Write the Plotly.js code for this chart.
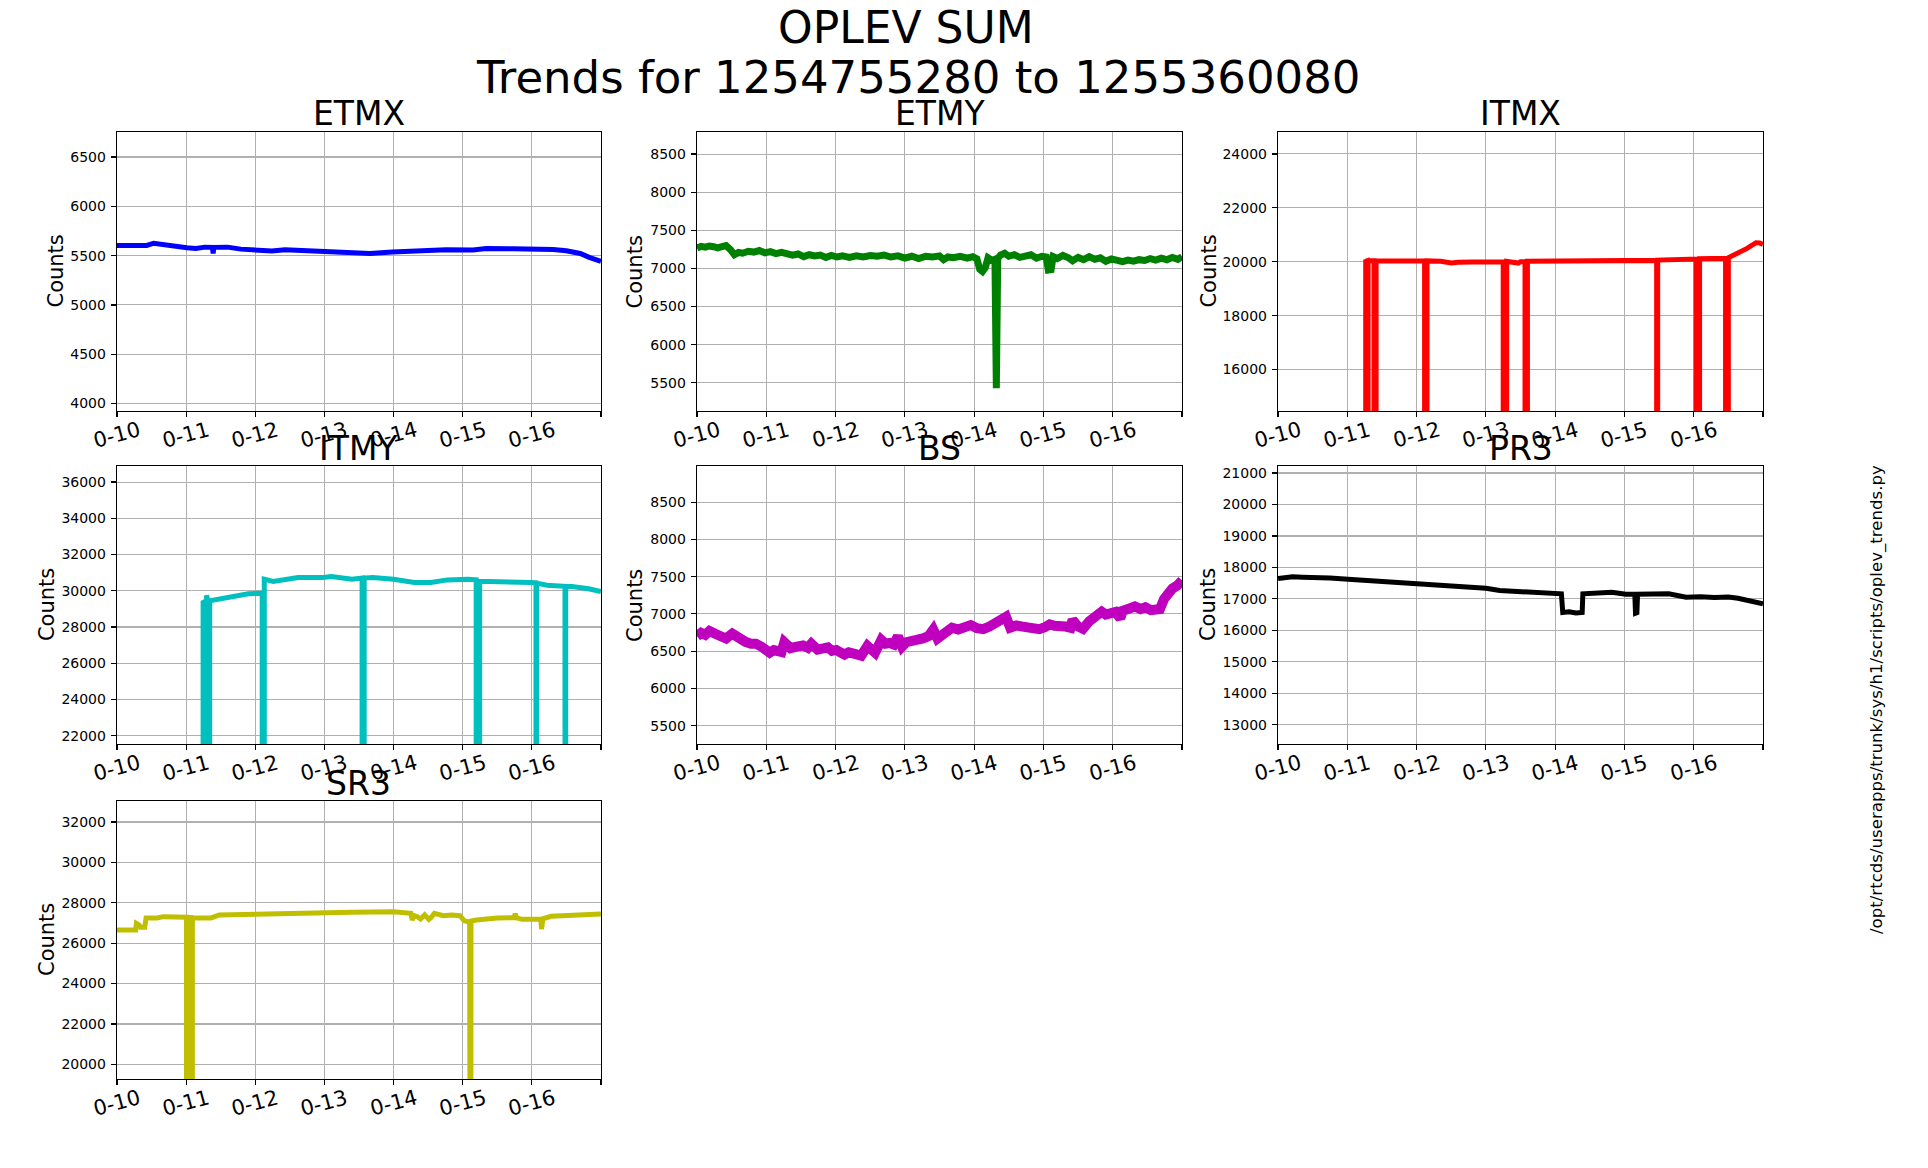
<!DOCTYPE html>
<html>
<head>
<meta charset="utf-8">
<script src="https://cdn.plot.ly/plotly-3.0.1.min.js"></script>
<style>
  html, body { margin: 0; padding: 0; background: #fff; }
  #chart { width: 1928px; height: 1168px; }
</style>
</head>
<body>
<div id="chart"></div>
<script>
// x is days since the start of the trend window (1254755280)
const dayTicks = [0, 1, 2, 3, 4, 5, 6, 7];
const dayLabels = ["0-10", "0-11", "0-12", "0-13", "0-14", "0-15", "0-16", ""];

const mainTitle = "OPLEV SUM";
const subTitle = "Trends for 1254755280 to 1255360080";
const scriptPath = "/opt/rtcds/userapps/trunk/sys/h1/scripts/oplev_trends.py";

const etmxT = [0, 0.43, 0.53, 0.66, 0.82, 1.01, 1.14, 1.27, 1.38, 1.39, 1.40, 1.47, 1.6, 1.79, 1.92, 2.05, 2.24, 2.43, 2.69, 2.95, 3.21, 3.47, 3.66, 3.98, 4.24, 4.43, 4.76, 5.15, 5.34, 5.73, 6.05, 6.31, 6.5, 6.7, 6.83, 7.0];
const etmxV = [5603, 5603, 5626, 5613, 5590, 5580, 5573, 5586, 5584, 5522, 5584, 5586, 5586, 5566, 5562, 5546, 5546, 5560, 5553, 5536, 5532, 5532, 5522, 5536, 5542, 5556, 5560, 5556, 5573, 5570, 5570, 5562, 5550, 5522, 5482, 5441];

const etmyT = [0, 0.06, 0.12, 0.18, 0.24, 0.3, 0.36, 0.42, 0.48, 0.54, 0.6, 0.66, 0.74, 0.82, 0.9, 0.98, 1.06, 1.14, 1.22, 1.3, 1.38, 1.46, 1.54, 1.62, 1.7, 1.78, 1.86, 1.94, 2.02, 2.1, 2.2, 2.3, 2.4, 2.5, 2.6, 2.7, 2.8, 2.9, 3.0, 3.1, 3.2, 3.3, 3.4, 3.5, 3.56, 3.62, 3.7, 3.8, 3.9, 3.98, 4.04, 4.08, 4.12, 4.16, 4.2, 4.26, 4.3, 4.32, 4.34, 4.38, 4.44, 4.5, 4.58, 4.66, 4.74, 4.82, 4.9, 4.98, 5.04, 5.07, 5.11, 5.14, 5.2, 5.28, 5.36, 5.42, 5.5, 5.58, 5.66, 5.74, 5.82, 5.9, 5.98, 6.06, 6.14, 6.22, 6.3, 6.38, 6.46, 6.54, 6.62, 6.7, 6.78, 6.86, 6.94, 7.0];
const etmyV = [7270, 7290, 7280, 7295, 7285, 7270, 7285, 7300, 7250, 7180, 7210, 7200, 7225, 7215, 7235, 7205, 7220, 7195, 7210, 7185, 7175, 7190, 7155, 7180, 7165, 7175, 7145, 7170, 7150, 7165, 7145, 7165, 7150, 7170, 7160, 7175, 7150, 7165, 7135, 7160, 7130, 7160, 7150, 7165, 7115, 7150, 7140, 7160, 7135, 7155, 7125, 6990, 6960, 7010, 7140, 7105, 7120, 5430, 7130, 7175, 7200, 7160, 7180, 7145, 7165, 7180, 7135, 7160, 7150, 6980, 6985, 7155, 7130, 7170, 7140, 7100, 7145, 7115, 7155, 7120, 7140, 7095, 7125, 7105, 7090, 7110, 7095, 7115, 7105, 7130, 7110, 7135, 7115, 7145, 7120, 7155];

// value 0 = channel dropped out (off the bottom of the plot)
const itmxT = [0, 1.265, 1.265, 1.285, 1.285, 1.30, 1.30, 1.385, 1.385, 1.415, 1.415, 1.6, 1.8, 2.0, 2.115, 2.115, 2.15, 2.15, 2.35, 2.5, 2.6, 2.8, 3.0, 3.25, 3.25, 3.30, 3.30, 3.47, 3.5, 3.565, 3.565, 3.60, 3.60, 4.0, 4.5, 4.9, 5.0, 5.2, 5.465, 5.465, 5.48, 5.48, 5.8, 6.0, 6.035, 6.035, 6.085, 6.085, 6.3, 6.46, 6.46, 6.50, 6.50, 6.58, 6.77, 6.9, 6.95, 7.0];
const itmxV = [0, 0, 20010, 20030, 0, 0, 20040, 20040, 0, 0, 20030, 20030, 20020, 20030, 20025, 0, 0, 20030, 20020, 19950, 19980, 19990, 19990, 20000, 0, 0, 20010, 19950, 20000, 20010, 0, 0, 20020, 20030, 20030, 20030, 20020, 20040, 20050, 0, 0, 20060, 20080, 20100, 20100, 0, 0, 20110, 20120, 20130, 0, 0, 20150, 20248, 20495, 20706, 20700, 20644];

const itmyT = [0, 1.245, 1.245, 1.27, 1.27, 1.295, 1.295, 1.32, 1.32, 1.34, 1.34, 1.42, 1.66, 1.9, 2.10, 2.10, 2.13, 2.13, 2.26, 2.5, 2.62, 2.98, 3.1, 3.4, 3.545, 3.545, 3.575, 3.575, 3.7, 4.0, 4.3, 4.54, 4.78, 5.08, 5.195, 5.195, 5.245, 5.245, 5.68, 5.98, 6.06, 6.06, 6.07, 6.07, 6.22, 6.48, 6.48, 6.49, 6.49, 6.58, 6.82, 7.0];
const itmyV = [0, 0, 29350, 29400, 0, 0, 29750, 29400, 0, 0, 29450, 29500, 29650, 29830, 29870, 0, 0, 30640, 30520, 30640, 30730, 30730, 30790, 30640, 30700, 0, 0, 30700, 30730, 30640, 30460, 30460, 30600, 30640, 30600, 0, 0, 30520, 30520, 30460, 30440, 0, 0, 30420, 30310, 30250, 0, 0, 30240, 30236, 30107, 29960];

const bsT = [0, 0.06, 0.12, 0.18, 0.27, 0.34, 0.42, 0.51, 0.57, 0.63, 0.7, 0.78, 0.85, 0.93, 1.0, 1.05, 1.11, 1.17, 1.22, 1.26, 1.3, 1.35, 1.44, 1.53, 1.6, 1.65, 1.74, 1.82, 1.89, 1.95, 2.01, 2.07, 2.13, 2.19, 2.25, 2.31, 2.37, 2.46, 2.52, 2.57, 2.66, 2.72, 2.78, 2.84, 2.9, 2.96, 3.02, 3.08, 3.17, 3.26, 3.34, 3.41, 3.47, 3.56, 3.62, 3.68, 3.77, 3.86, 3.95, 4.04, 4.13, 4.22, 4.31, 4.4, 4.46, 4.52, 4.61, 4.7, 4.82, 4.94, 5.02, 5.09, 5.16, 5.24, 5.32, 5.39, 5.42, 5.5, 5.57, 5.66, 5.75, 5.84, 5.9, 5.96, 6.04, 6.11, 6.14, 6.23, 6.32, 6.4, 6.47, 6.55, 6.62, 6.68, 6.74, 6.8, 6.86, 6.93, 7.0];
const bsV = [6700, 6745, 6720, 6770, 6730, 6705, 6670, 6735, 6690, 6673, 6625, 6600, 6600, 6560, 6520, 6480, 6515, 6507, 6490, 6620, 6555, 6540, 6560, 6575, 6545, 6600, 6520, 6555, 6550, 6505, 6516, 6485, 6455, 6485, 6465, 6430, 6440, 6570, 6505, 6480, 6650, 6600, 6610, 6590, 6700, 6560, 6620, 6628, 6640, 6670, 6700, 6790, 6670, 6750, 6790, 6815, 6790, 6825, 6850, 6807, 6795, 6830, 6870, 6920, 6960, 6815, 6845, 6830, 6810, 6795, 6820, 6860, 6840, 6850, 6830, 6815, 6920, 6830, 6800, 6900, 6950, 7030, 6990, 7000, 7025, 6940, 7040, 7070, 7100, 7065, 7090, 7050, 7076, 7065, 7200, 7290, 7340, 7380, 7450];

const pr3T = [0, 0.1, 0.21, 0.35, 0.52, 0.75, 1.01, 1.25, 1.46, 1.7, 2.01, 2.15, 2.33, 2.5, 2.71, 3.0, 3.2, 3.4, 3.58, 3.8, 3.96, 4.09, 4.11, 4.2, 4.3, 4.39, 4.4, 4.58, 4.82, 5.02, 5.15, 5.16, 5.18, 5.19, 5.39, 5.64, 5.89, 6.1, 6.3, 6.5, 6.64, 6.85, 7.0];
const pr3V = [17647, 17670, 17700, 17685, 17690, 17660, 17626, 17590, 17552, 17520, 17477, 17465, 17435, 17420, 17393, 17340, 17265, 17240, 17202, 17180, 17159, 17159, 16565, 16590, 16550, 16565, 17159, 17165, 17212, 17148, 17148, 16544, 16560, 17148, 17148, 17159, 17053, 17070, 17045, 17060, 17021, 16900, 16841];

const sr3T = [0, 0.1, 0.22, 0.27, 0.28, 0.32, 0.34, 0.4, 0.42, 0.58, 0.67, 0.8, 1.005, 1.005, 1.035, 1.035, 1.065, 1.065, 1.09, 1.09, 1.36, 1.48, 1.9, 2.5, 3.1, 3.4, 4.0, 4.15, 4.25, 4.27, 4.3, 4.35, 4.39, 4.45, 4.51, 4.55, 4.59, 4.72, 4.84, 4.96, 5.02, 5.1, 5.105, 5.115, 5.12, 5.2, 5.5, 5.74, 5.76, 5.78, 5.86, 6.1, 6.13, 6.14, 6.16, 6.28, 6.7, 7.0];
const sr3V = [26653, 26640, 26620, 26650, 26983, 26900, 26785, 26790, 27248, 27250, 27314, 27280, 27281, 0, 0, 27270, 27270, 0, 0, 27260, 27248, 27396, 27412, 27446, 27478, 27528, 27561, 27528, 27480, 27150, 27360, 27300, 27198, 27400, 27180, 27300, 27478, 27363, 27400, 27363, 27116, 27033, 0, 0, 27100, 27150, 27248, 27260, 27460, 27250, 27180, 27198, 27190, 26700, 27210, 27330, 27363, 27446];

const panelNames = ["ETMX", "ETMY", "ITMX", "ITMY", "BS", "PR3", "SR3"];
const panelTimes = [etmxT, etmyT, itmxT, itmyT, bsT, pr3T, sr3T];
const panelValues = [etmxV, etmyV, itmxV, itmyV, bsV, pr3V, sr3V];
const panelColors = ["#0000ff", "#008000", "#ff0000", "#00bfbf", "#bf00bf", "#000000", "#bfbf00"];
const panelRanges = [[3924, 6754], [5130, 8790], [14460, 24815], [21543, 36884], [5254, 8984], [12385, 21223], [19274, 33040]];
const panelDtick = [500, 500, 2000, 2000, 500, 1000, 2000];

// layout geometry (paper fractions)
const colDomains = [[0.0607, 0.3117], [0.3615, 0.6131], [0.6629, 0.9144]];
const rowDomains = [[0.6481, 0.887], [0.363, 0.601], [0.0762, 0.3142]];
const lineWidths = [5, 7, 5, 5, 10, 5, 5];

const FONT = "DejaVu Sans, Verdana, sans-serif";

const traces = [];
const annotations = [];
const layout = {
  width: 1928,
  height: 1168,
  margin: { l: 0, r: 0, t: 0, b: 0 },
  paper_bgcolor: "#ffffff",
  plot_bgcolor: "#ffffff",
  showlegend: false,
  font: { family: FONT, color: "#000000" },
};

panelNames.forEach((name, i) => {
  const n = i + 1;
  const col = i % 3;
  const row = Math.floor(i / 3);
  const xa = n === 1 ? "x" : "x" + n;
  const ya = n === 1 ? "y" : "y" + n;

  traces.push({
    x: panelTimes[i],
    y: panelValues[i],
    xaxis: xa,
    yaxis: ya,
    type: "scatter",
    mode: "lines",
    line: { color: panelColors[i], width: lineWidths[i] },
    hoverinfo: "skip",
  });

  const common = {
    showline: true,
    mirror: true,
    linecolor: "#000000",
    linewidth: 1.3,
    ticks: "outside",
    ticklen: 5,
    tickwidth: 1.2,
    tickcolor: "#000000",
    showgrid: true,
    gridcolor: "#b0b0b0",
    gridwidth: 1.1,
    zeroline: false,
    fixedrange: true,
  };

  layout["xaxis" + (n === 1 ? "" : n)] = Object.assign({}, common, {
    domain: colDomains[col],
    anchor: ya,
    range: [0, 7],
    tickmode: "array",
    tickvals: dayTicks,
    showticklabels: false,
  });

  layout["yaxis" + (n === 1 ? "" : n)] = Object.assign({}, common, {
    domain: rowDomains[row],
    anchor: xa,
    range: panelRanges[i],
    tick0: 0,
    dtick: panelDtick[i],
    tickformat: "d",
    tickfont: { family: FONT, size: 14, color: "#000000" },
    ticklabelstandoff: 2,
  });

  // subplot title
  annotations.push({
    text: name,
    xref: xa + " domain",
    yref: "paper",
    x: 0.5,
    y: rowDomains[row][1],
    yshift: 18,
    xanchor: "center",
    yanchor: "middle",
    showarrow: false,
    font: { family: FONT, size: 33, color: "#000000" },
  });

  // y axis label
  const wide = panelRanges[i][1] >= 10000;
  annotations.push({
    text: "Counts",
    xref: xa + " domain",
    yref: ya + " domain",
    x: 0,
    y: 0.5,
    xshift: wide ? -70 : -62,
    xanchor: "center",
    yanchor: "middle",
    textangle: -90,
    showarrow: false,
    font: { family: FONT, size: 21, color: "#000000" },
  });

  // rotated date labels
  dayTicks.forEach((d, k) => {
    if (!dayLabels[k]) return;
    annotations.push({
      text: dayLabels[k],
      xref: xa,
      yref: "paper",
      x: d,
      y: rowDomains[row][0],
      yshift: -24,
      xanchor: "center",
      yanchor: "middle",
      textangle: -15,
      showarrow: false,
      font: { family: FONT, size: 21, color: "#000000" },
    });
  });
});

annotations.push({
  text: mainTitle,
  xref: "paper", yref: "paper",
  x: 906 / 1928, y: 1 - 27 / 1168,
  xanchor: "center", yanchor: "middle",
  showarrow: false,
  font: { family: FONT, size: 44, color: "#000000" },
});
annotations.push({
  text: subTitle,
  xref: "paper", yref: "paper",
  x: 918 / 1928, y: 1 - 77 / 1168,
  xanchor: "center", yanchor: "middle",
  showarrow: false,
  font: { family: FONT, size: 45, color: "#000000" },
});
annotations.push({
  text: scriptPath,
  xref: "paper", yref: "paper",
  x: 1877 / 1928, y: 1 - 700 / 1168,
  xanchor: "center", yanchor: "middle",
  textangle: -90,
  showarrow: false,
  font: { family: FONT, size: 16.6, color: "#000000" },
});

layout.annotations = annotations;

Plotly.newPlot("chart", traces, layout, { displayModeBar: false, staticPlot: true });
</script>
</body>
</html>
